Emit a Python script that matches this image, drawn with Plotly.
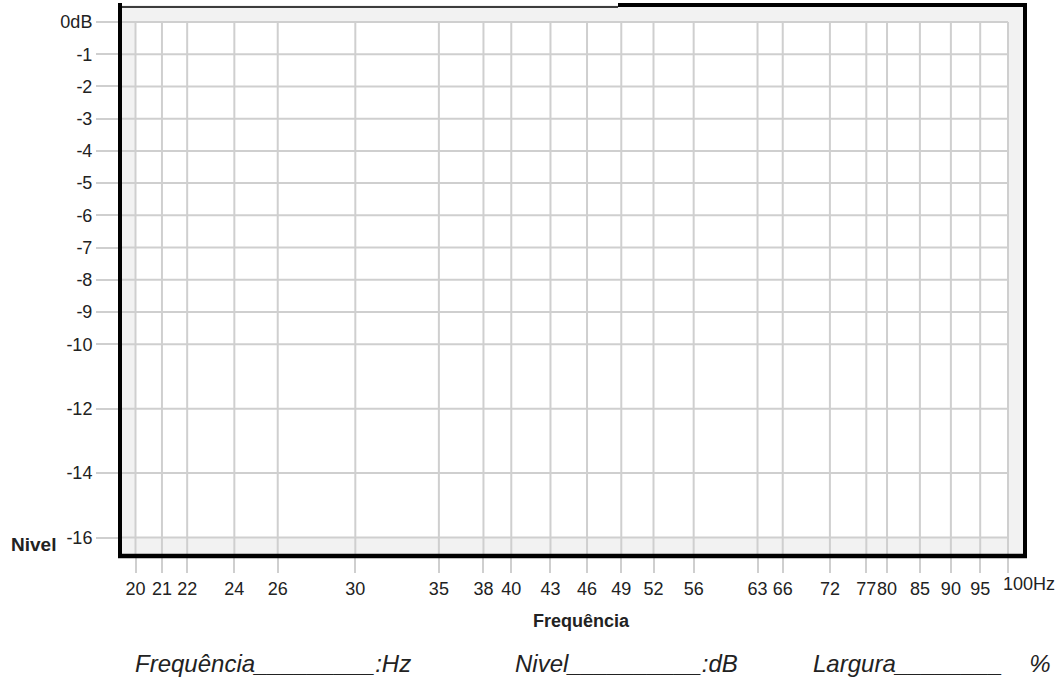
import math
import plotly.graph_objects as go

# chart data
freqs = [20, 21, 22, 24, 26, 30, 35, 38, 40, 43, 46, 49, 52, 56, 63, 66, 72, 77, 80, 85, 90, 95, 100]
freq_labels = [str(f) for f in freqs[:-1]] + [""]
levels = [0, -1, -2, -3, -4, -5, -6, -7, -8, -9, -10, -12, -14, -16]
level_labels = ["0dB"] + [str(v) for v in levels[1:]]

W, H = 1062, 681
L, R, T, B = 120, 1025, 5, 556  # plot area in pixels
pw, ph = R - L, B - T

x_lo, x_hi = math.log10(freqs[0]), math.log10(freqs[-1])
ppd = (1008 - 135.5) / (x_hi - x_lo)
x_range = [x_lo - (135.5 - L) / ppd, x_hi + (R - 1008) / ppd]
ppu = (537.5 - 22) / (levels[0] - levels[-1])
y_range = [levels[-1] - (B - 537.5) / ppu, levels[0] + (22 - T) / ppu]

grid = "#cfcfcf"
sans = "Liberation Sans, Arial, sans-serif"
nb = "\u00a0"


def px(x):
    return (x - L) / pw


def py(y):
    return (B - y) / ph


fig = go.Figure()

# white inner field
fig.add_trace(go.Scatter(
    x=[freqs[0], freqs[-1], freqs[-1], freqs[0], freqs[0]],
    y=[levels[0], levels[0], levels[-1], levels[-1], levels[0]],
    fill="toself", fillcolor="white", mode="lines", line=dict(width=0),
    hoverinfo="skip", showlegend=False,
))

# vertical grid lines
vx, vy = [], []
for f in freqs:
    vx += [f, f, None]
    vy += [levels[0], y_range[0], None]
fig.add_trace(go.Scatter(x=vx, y=vy, mode="lines", line=dict(color=grid, width=2),
                         hoverinfo="skip", showlegend=False))

# horizontal grid lines
hx, hy = [], []
for v in levels:
    hx += [10 ** x_range[0], freqs[-1], None]
    hy += [v, v, None]
fig.add_trace(go.Scatter(x=hx, y=hy, mode="lines", line=dict(color=grid, width=2),
                         hoverinfo="skip", showlegend=False))

# frame
frame = [
    (px(L), py(3), px(L), py(558), 4),
    (px(118), py(B), px(1027), py(B), 4.5),
    (px(R), py(3), px(R), py(558), 4),
    (px(618), py(5), px(1027), py(5), 4),
    (px(L), py(7), px(618), py(7), 1.5),
]
for x0, y0, x1, y1, w in frame:
    fig.add_shape(type="line", xref="paper", yref="paper", x0=x0, y0=y0, x1=x1, y1=y1,
                  line=dict(color="black", width=w))

fig.update_xaxes(
    type="log", range=x_range, showgrid=False, zeroline=False, showline=False,
    tickmode="array", tickvals=freqs, ticktext=freq_labels, tickangle=0, automargin=False,
    ticks="outside", ticklen=16, tickwidth=2, tickcolor=grid,
    tickfont=dict(family=sans, size=18, color="#222"),
)
fig.update_yaxes(
    range=y_range, showgrid=False, zeroline=False, showline=False,
    tickmode="array", tickvals=levels, ticktext=level_labels, automargin=False,
    ticks="outside", ticklen=23, tickwidth=2, tickcolor=grid,
    tickfont=dict(family=sans, size=18, color="#222"),
)

notes = [
    dict(text="100Hz", x=px(1001), y=py(584), xanchor="left",
         font=dict(family=sans, size=18, color="#222")),
    dict(text="<b>Nivel</b>", x=px(33), y=py(544), xanchor="center",
         font=dict(family=sans, size=19, color="#222")),
    dict(text="<b>Frequência</b>", x=px(581), y=py(621), xanchor="center",
         font=dict(family=sans, size=18, color="#222")),
    dict(text="<i>Frequência_________:Hz</i>", x=px(133), y=py(663), xanchor="left",
         font=dict(family=sans, size=24, color="#222")),
    dict(text="<i>Nivel__________:dB</i>", x=px(513), y=py(663), xanchor="left",
         font=dict(family=sans, size=24, color="#222")),
    dict(text="<i>Largura________" + nb * 4 + "%</i>", x=px(811), y=py(663), xanchor="left",
         font=dict(family=sans, size=24, color="#222")),
]
for n in notes:
    fig.add_annotation(xref="paper", yref="paper", yanchor="middle", showarrow=False, **n)

fig.update_layout(
    width=W, height=H,
    margin=dict(l=L, r=W - R, t=T, b=H - B, pad=0),
    plot_bgcolor="#f2f2f2", paper_bgcolor="white",
    showlegend=False,
)

fig.write_html("out.html", config={"displayModeBar": False},
               post_script="document.body.style.margin = '0';")
